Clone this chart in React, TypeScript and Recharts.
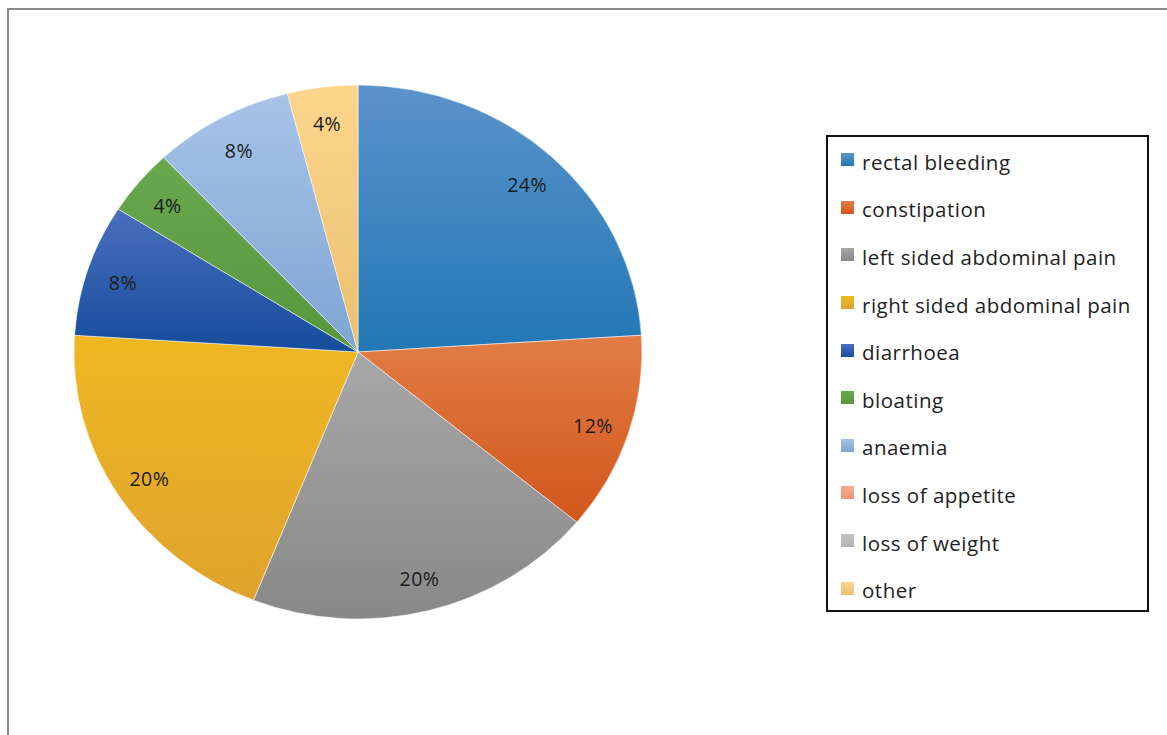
import { PieChart, Pie, Sector, Cell, Legend } from 'recharts';

const categories = [
    'rectal bleeding',
    'constipation',
    'left sided abdominal pain',
    'right sided abdominal pain',
    'diarrhoea',
    'bloating',
    'anaemia',
    'loss of appetite',
    'loss of weight',
    'other',
];
const shares = [24, 12, 20, 20, 8, 4, 8, 0, 0, 4];
const topColors = ['#5b93c9', '#e27d45', '#a8a8a8', '#f0b722', '#4a6fbe', '#6aa84f', '#a7c3e7', '#f6ab8e', '#c4c4c4', '#fdd68e'];
const bottomColors = ['#2277b6', '#d2561c', '#888888', '#dea32c', '#154c9c', '#56963c', '#7ea5d5', '#ee9677', '#b2b2b2', '#ebbf6e'];

const data = categories.map((name, i) => ({ name, value: shares[i] }));

// Excel squashed the pie a little vertically
const SQUASH = 0.94;
const RADIAN = Math.PI / 180;
const FONT = '"Open Sans", sans-serif';

const EllipseSector = (props: any) => {
    const { cy } = props;
    return (
        <g transform={`translate(0 ${cy * (1 - SQUASH)}) scale(1 ${SQUASH})`}>
            <Sector {...props} stroke="rgba(255,255,255,0.55)" strokeWidth={1} />
        </g>
    );
};

const renderLabel = ({ cx, cy, midAngle, outerRadius, value }: any) => {
    if (!value) return null;
    const r = outerRadius * 0.87;
    const x = cx + r * Math.cos(-midAngle * RADIAN);
    const y = cy + r * Math.sin(-midAngle * RADIAN) * SQUASH + 2;
    return (
        <text x={x} y={y} textAnchor="middle" dominantBaseline="central"
            fill="#1a1a1a" fontSize={19.5} fontFamily={FONT} letterSpacing={0.5}>
            {`${value}%`}
        </text>
    );
};

const LegendBox = () => (
    <div style={{
        boxSizing: 'border-box', width: 323, height: 477, border: '2px solid #111',
        background: '#fff', paddingTop: 1, fontFamily: FONT, fontSize: 20.5, letterSpacing: 0.5, color: '#222',
    }}>
        {categories.map((c, i) => (
            <div key={c} style={{ height: 47.6, display: 'flex', alignItems: 'center', paddingLeft: 13 }}>
                <span style={{
                    display: 'inline-block', width: 13, height: 13, marginRight: 8, marginTop: -4, flexShrink: 0,
                    background: `linear-gradient(${topColors[i]}, ${bottomColors[i]})`,
                }} />
                <span style={{ whiteSpace: 'nowrap' }}>{c}</span>
            </div>
        ))}
    </div>
);

export default function App() {
    return (
        <div style={{ position: 'relative', width: 1167, height: 735, overflow: 'hidden', background: '#fff' }}>
            <style>{'body{margin:0}'}</style>
            <div style={{
                position: 'absolute', left: 7, top: 8, width: 2000, height: 2000,
                borderLeft: '2px solid #8a8a8a', borderTop: '2px solid #8a8a8a',
            }} />
            <PieChart width={1167} height={735} margin={{ top: 0, right: 0, bottom: 0, left: 0 }}>
                <defs>
                    {categories.map((c, i) => (
                        <linearGradient key={c} id={`slice${i}`} x1="0" y1="0" x2="0" y2="1">
                            <stop offset="0%" stopColor={topColors[i]} />
                            <stop offset="100%" stopColor={bottomColors[i]} />
                        </linearGradient>
                    ))}
                </defs>
                <Pie
                    data={data}
                    dataKey="value"
                    nameKey="name"
                    cx={358}
                    cy={352}
                    outerRadius={284}
                    startAngle={90}
                    endAngle={-270}
                    shape={EllipseSector}
                    label={renderLabel}
                    labelLine={false}
                    isAnimationActive={false}
                >
                    {data.map((d, i) => (
                        <Cell key={d.name} fill={`url(#slice${i})`} />
                    ))}
                </Pie>
                <Legend
                    layout="vertical"
                    align="right"
                    verticalAlign="top"
                    content={<LegendBox />}
                    wrapperStyle={{ left: 826, right: 'auto', top: 135, width: 323 }}
                />
            </PieChart>
        </div>
    );
}
